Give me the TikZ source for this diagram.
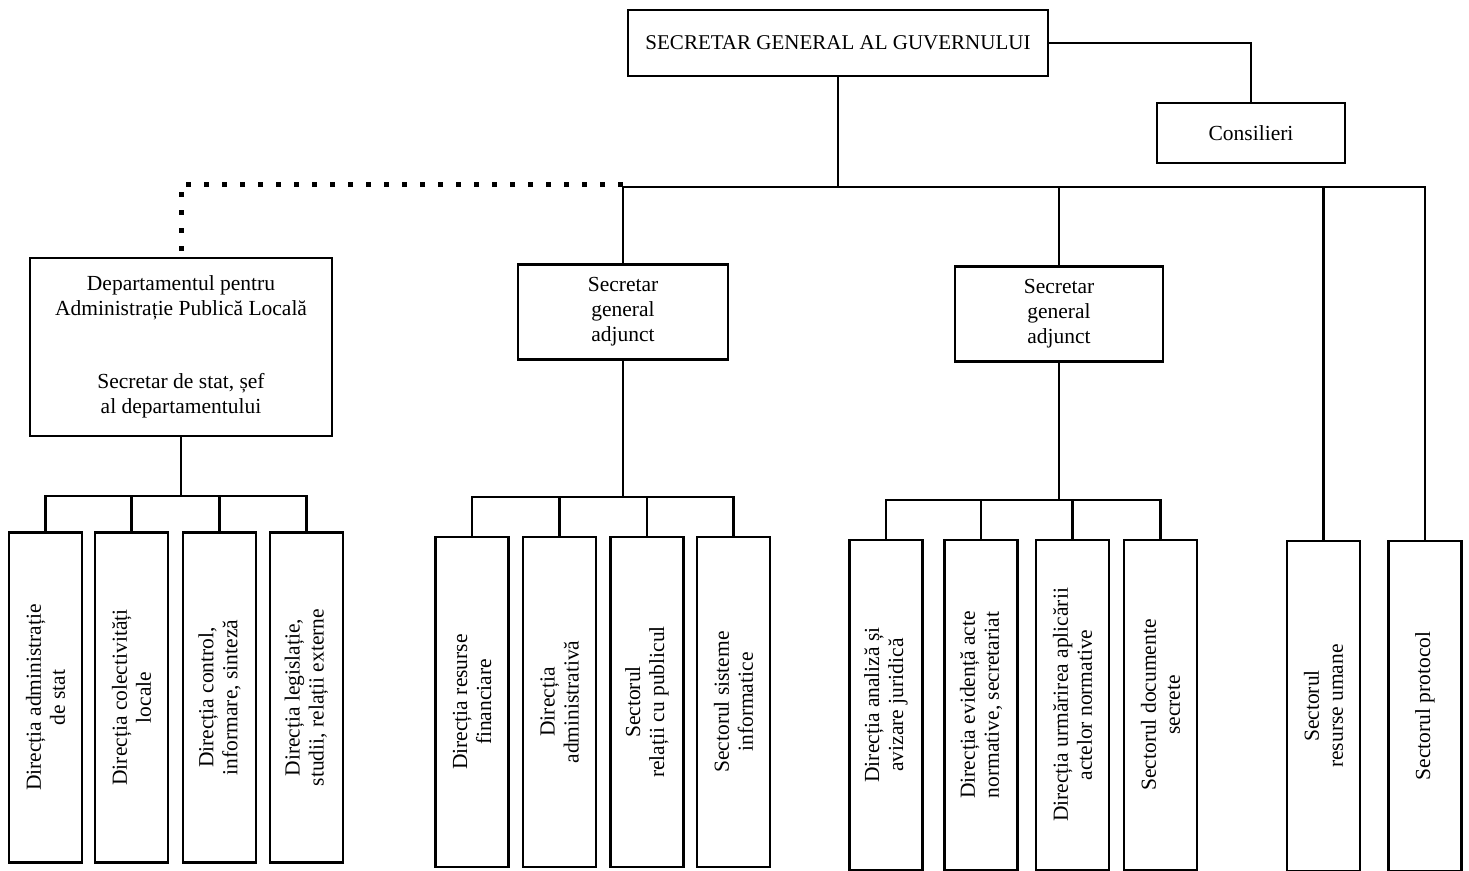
\documentclass[tikz,border=0pt]{standalone}
\usepackage{fontspec}
\setmainfont{Liberation Serif}
\begin{document}
\begin{tikzpicture}[x=1pt,y=-1pt,
  box/.style={draw,line width=2.4pt,align=center,inner sep=0pt,font=\fontsize{21.5}{25}\selectfont},
  vbox/.style={draw,line width=2.8pt,minimum width=73pt,minimum height=330pt,inner sep=0pt},
  vtext/.style={rotate=90,align=center,font=\fontsize{21.5}{24}\selectfont},
  link/.style={line width=2.2pt,line cap=rect},
  dots/.style={line width=5pt,dash pattern=on 5pt off 13pt}]
\useasboundingbox (0,0) rectangle (1469,870);

% Top level
\node[box,minimum width=420pt,minimum height=66pt,font=\fontsize{21}{24}\selectfont] (sg) at (838,43) {SECRETAR GENERAL AL GUVERNULUI};
\node[box,minimum width=188pt,minimum height=60pt] (cons) at (1251,133) {Consilieri};

% Second level
\node[box,minimum width=302pt,minimum height=178pt] (dept) at (181,347) {Departamentul pentru\\Administrație Publică Locală\\[48pt]Secretar de stat, șef\\al departamentului};
\node[box,minimum width=210pt,minimum height=95pt] (sga1) at (623,312) {Secretar\\general\\adjunct};
\node[box,minimum width=208pt,minimum height=95pt] (sga2) at (1059,314) {Secretar\\general\\adjunct};

% Bottom boxes
\foreach \n/\x/\t in {d1/45.5/{Direcția administrație\\de stat},
    d2/131.5/{Direcția colectivități\\locale},
    d3/219.5/{Direcția control,\\informare, sinteză},
    d4/306.5/{Direcția legislație,\\studii, relații externe}}
  \node[vbox,label={[vtext]center:\t}] (\n) at (\x,697.5) {};
\foreach \n/\x/\t in {e1/472/{Direcția resurse\\financiare},
    e2/559.5/{Direcția\\administrativă},
    e3/647/{Sectorul\\relații cu publicul},
    e4/733.5/{Sectorul sisteme\\informatice}}
  \node[vbox,label={[vtext]center:\t}] (\n) at (\x,702) {};
\foreach \n/\x/\t in {f1/886/{Direcția analiză și\\avizare juridică},
    f2/981/{Direcția evidență acte\\normative, secretariat},
    f3/1072.5/{Direcția urmărirea aplicării\\actelor normative},
    f4/1160.5/{Sectorul documente\\secrete}}
  \node[vbox,label={[vtext]center:\t}] (\n) at (\x,705) {};
\foreach \n/\x/\t in {g1/1323.5/{Sectorul\\resurse umane},
    g2/1425/{Sectorul protocol}}
  \node[vbox,label={[vtext]center:\t}] (\n) at (\x,706) {};

% Draw connectors
\coordinate (bus) at (0,187);
\coordinate (dotbus) at (0,184);
\draw[link] (sg.east) -| (cons.north);
\draw[link] (sg.south) -- (sg.south |- bus);
\draw[link] (sga1.north |- bus) -- (g2.north |- bus);
\draw[dots] (sga1.north |- dotbus) -| (dept.north);
\foreach \n in {sga1,sga2,g1,g2}
  \draw[link] (\n.north |- bus) -- (\n.north);

\coordinate (busd) at (0,496);
\draw[link] (dept.south) -- (dept.south |- busd);
\draw[link] (d1.north |- busd) -- (d4.north |- busd);
\foreach \n in {d1,d2,d3,d4}
  \draw[link] (\n.north |- busd) -- (\n.north);

\coordinate (buse) at (0,497);
\draw[link] (sga1.south) -- (sga1.south |- buse);
\draw[link] (e1.north |- buse) -- (e4.north |- buse);
\foreach \n in {e1,e2,e3,e4}
  \draw[link] (\n.north |- buse) -- (\n.north);

\coordinate (busf) at (0,500);
\draw[link] (sga2.south) -- (sga2.south |- busf);
\draw[link] (f1.north |- busf) -- (f4.north |- busf);
\foreach \n in {f1,f2,f3,f4}
  \draw[link] (\n.north |- busf) -- (\n.north);
\end{tikzpicture}
\end{document}
